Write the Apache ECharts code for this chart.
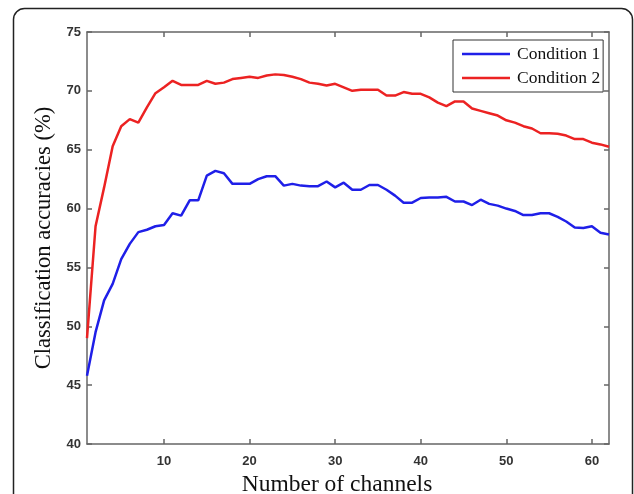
<!DOCTYPE html>
<html>
<head>
<meta charset="utf-8">
<script src="https://cdn.jsdelivr.net/npm/echarts@6/dist/echarts.min.js"></script>
<style>
html,body{margin:0;padding:0;background:#fff;}
#chart{width:634px;height:494px;}
</style>
</head>
<body>
<div id="chart"></div>
<script>
const channels = [1,2,3,4,5,6,7,8,9,10,11,12,13,14,15,16,17,18,19,20,21,22,23,24,25,26,27,28,29,30,31,32,33,34,35,36,37,38,39,40,41,42,43,44,45,46,47,48,49,50,51,52,53,54,55,56,57,58,59,60,61,62];
const condition1 = [45.8,49.5,52.2,53.6,55.7,57.0,58.0,58.2,58.5,58.6,59.6,59.4,60.7,60.7,62.8,63.2,63.0,62.1,62.1,62.1,62.5,62.75,62.75,61.95,62.1,61.95,61.9,61.9,62.3,61.8,62.2,61.6,61.6,62.0,62.0,61.6,61.1,60.5,60.5,60.9,60.95,60.95,61.0,60.6,60.6,60.3,60.75,60.4,60.25,60.0,59.8,59.45,59.45,59.6,59.6,59.3,58.9,58.4,58.35,58.5,57.95,57.8];
const condition2 = [49.0,58.5,61.8,65.3,67.0,67.6,67.3,68.6,69.8,70.3,70.85,70.5,70.5,70.5,70.85,70.6,70.7,71.0,71.1,71.2,71.1,71.3,71.4,71.35,71.2,71.0,70.7,70.6,70.45,70.6,70.3,70.0,70.1,70.1,70.1,69.6,69.6,69.9,69.75,69.75,69.45,69.0,68.7,69.1,69.1,68.5,68.3,68.1,67.9,67.5,67.3,67.0,66.8,66.4,66.4,66.35,66.2,65.9,65.9,65.6,65.45,65.25];
const seriesNames = ['Condition 1', 'Condition 2'];
const xTicks = [10,20,30,40,50,60];
const xTitle = 'Number of channels';
const yTitle = 'Classification accuracies (%)';

const chart = echarts.init(document.getElementById('chart'), null, {renderer:'canvas'});
const axisColor = '#666';
const serif = '"Liberation Serif", "Times New Roman", serif';
const sans = '"Liberation Sans", Arial, sans-serif';
const pairs = arr => channels.map((c,i)=>[c, arr[i]]);

chart.setOption({
  animation: false,
  backgroundColor: '#fff',
  graphic: [{
    type: 'rect',
    shape: {x: 13.5, y: 8.5, width: 619, height: 540, r: 11},
    style: {fill: 'none', stroke: '#222', lineWidth: 1.5},
    z: -1
  }],
  grid: {left: 87, top: 32, width: 522, height: 412, containLabel: false, outerBoundsMode: 'none'},
  legend: {
    left: 453, top: 40, orient: 'vertical',
    backgroundColor: '#fff', borderColor: '#333', borderWidth: 1,
    padding: [5, 3, 5, 9], itemGap: 6,
    itemWidth: 48, itemHeight: 2.5, icon: 'rect',
    textStyle: {fontFamily: serif, fontSize: 17.5, color: '#111', lineHeight: 18, padding: [0,0,0,2]},
    data: seriesNames
  },
  xAxis: [{
    type: 'value', min: 1, max: 62, position: 'bottom',
    name: xTitle, nameLocation: 'middle', nameGap: 26,
    nameTextStyle: {fontFamily: serif, fontSize: 23.5, color: '#111', padding: [0, 22, 0, 0]},
    axisLine: {show: true, onZero: false, lineStyle: {color: axisColor, width: 1.5}},
    axisTick: {show: true, inside: true, length: 5, customValues: xTicks, lineStyle: {color: axisColor, width: 1.5}},
    axisLabel: {customValues: xTicks, margin: 11, fontFamily: sans, fontSize: 13, fontWeight: 'bold', color: '#333'},
    splitLine: {show: false}
  }, {
    type: 'value', min: 1, max: 62, position: 'top',
    axisLine: {show: true, onZero: false, lineStyle: {color: axisColor, width: 1.5}},
    axisTick: {show: true, inside: true, length: 5, customValues: xTicks, lineStyle: {color: axisColor, width: 1.5}},
    axisLabel: {show: false},
    splitLine: {show: false}
  }],
  yAxis: [{
    type: 'value', min: 40, max: 75, interval: 5, position: 'left',
    name: yTitle, nameLocation: 'middle', nameGap: 21,
    nameTextStyle: {fontFamily: serif, fontSize: 22.5, color: '#111'},
    axisLine: {show: true, onZero: false, lineStyle: {color: axisColor, width: 1.5}},
    axisTick: {show: true, inside: true, length: 5, lineStyle: {color: axisColor, width: 1.5}},
    axisLabel: {margin: 6, fontFamily: sans, fontSize: 13, fontWeight: 'bold', color: '#333'},
    splitLine: {show: false}
  }, {
    type: 'value', min: 40, max: 75, interval: 5, position: 'right',
    axisLine: {show: true, onZero: false, lineStyle: {color: axisColor, width: 1.5}},
    axisTick: {show: true, inside: true, length: 5, lineStyle: {color: axisColor, width: 1.5}},
    axisLabel: {show: false},
    splitLine: {show: false}
  }],
  series: [{
    name: seriesNames[0], type: 'line', xAxisIndex: 0, yAxisIndex: 0,
    data: pairs(condition1), showSymbol: false, symbol: 'none',
    lineStyle: {color: '#1f1fe8', width: 2.5}, itemStyle: {color: '#1f1fe8'}
  }, {
    name: seriesNames[1], type: 'line', xAxisIndex: 0, yAxisIndex: 0,
    data: pairs(condition2), showSymbol: false, symbol: 'none',
    lineStyle: {color: '#ec2222', width: 2.5}, itemStyle: {color: '#ec2222'}
  }]
});
</script>
</body>
</html>
